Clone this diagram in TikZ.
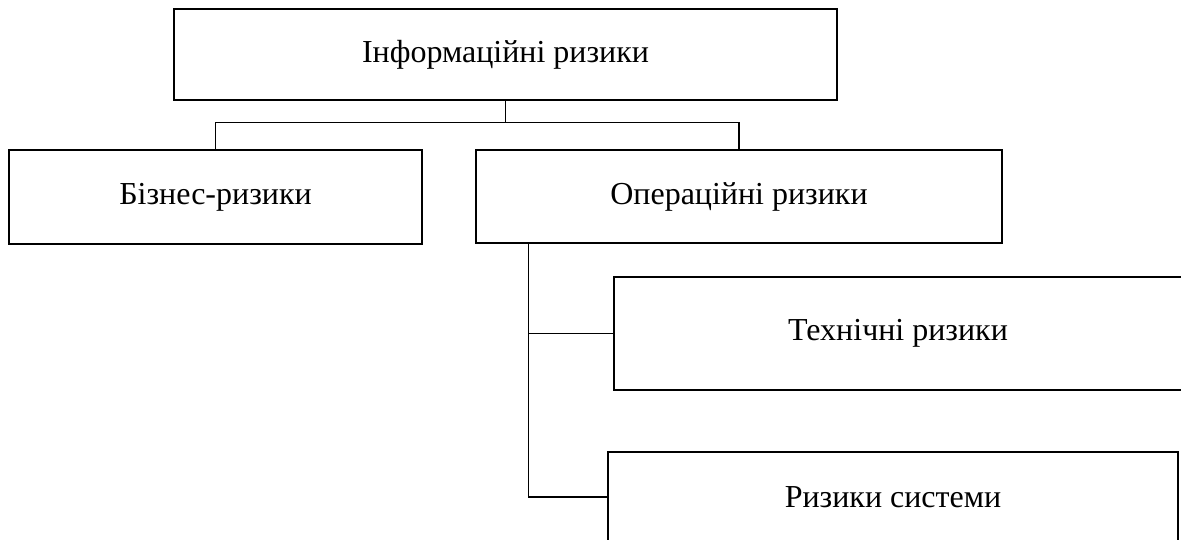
\documentclass[tikz,border=0pt]{standalone}
\usepackage{fontspec}
\setmainfont{Liberation Serif}
\tikzset{
  riskbox/.style={draw, line width=1.5pt, inner sep=0pt, font=\fontsize{32}{38}\selectfont},
  link/.style={line width=1.5pt}
}
\begin{document}
\begin{tikzpicture}[x=1pt,y=-1pt]
\useasboundingbox (0,0) rectangle (1181,540);
\clip (0,0) rectangle (1181,540);

\node[riskbox, minimum width=663pt, minimum height=91pt] (info) at (505.5,54.5) {Інформаційні ризики};
\node[riskbox, minimum width=413pt, minimum height=94pt] (biz) at (215.5,197) {Бізнес-ризики};
\node[riskbox, minimum width=526pt, minimum height=93pt] (oper) at (739,196.5) {Операційні ризики};
\node[riskbox, minimum width=568pt, minimum height=113pt] (tech) at (898,333.5) {Технічні ризики};
\node[riskbox, minimum width=570pt, minimum height=90pt] (sys) at (893,497) {Ризики системи};

\draw[link] (info.south) -- ++(0,22) coordinate (fork);
\draw[link] (biz.north) |- (fork) -| (oper.north);

\coordinate (trunk) at ([xshift=53pt]oper.south west);
\draw[link] (trunk) |- (sys.west);
\draw[link] (tech.west -| trunk) -- (tech.west);
\end{tikzpicture}
\end{document}
